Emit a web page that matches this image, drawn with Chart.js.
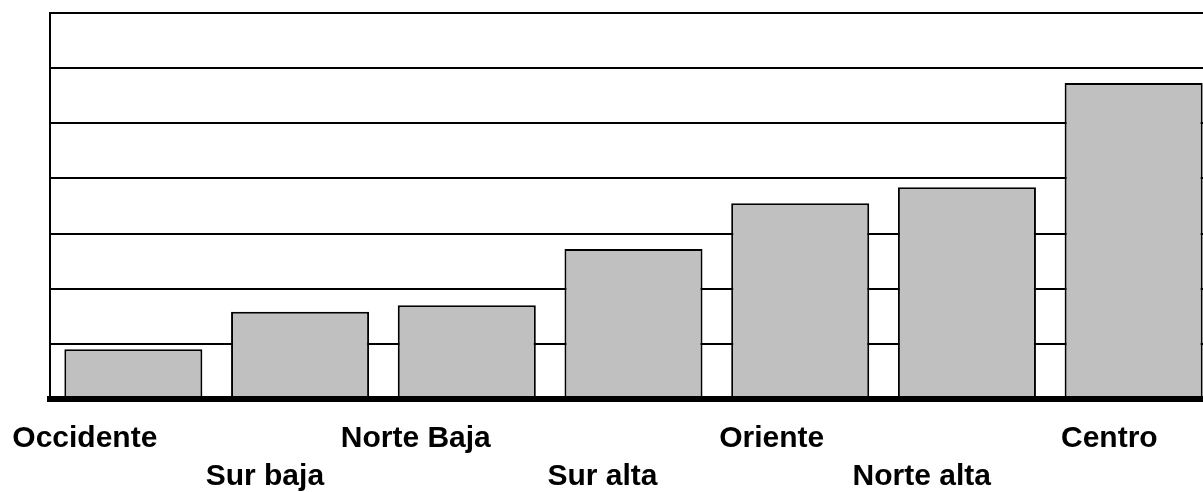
<!DOCTYPE html>
<html>
<head>
<meta charset="utf-8">
<script src="https://cdn.jsdelivr.net/npm/chart.js@4/dist/chart.umd.min.js"></script>
<style>
  html, body { margin: 0; padding: 0; background: #fff; overflow: hidden; }
  #wrap { width: 1220px; height: 492px; position: relative; }
</style>
</head>
<body>
<div id="wrap"><canvas id="c"></canvas></div>
<script>
// ---- data ----
const categories = ['Occidente', 'Sur baja', 'Norte Baja', 'Sur alta', 'Oriente', 'Norte alta', 'Centro'];
const values = [0.9, 1.58, 1.7, 2.72, 3.55, 3.84, 5.73];
const yTicks = [0, 1, 2, 3, 4, 5, 6, 7];

// staggered two-row labels built from categories
const stagedLabels = categories.map((c, i) => (i % 2 === 0 ? [c, ''] : ['', c]));

// category scale whose tick labels sit a little to the right of the bar centre
class ShiftedCategory extends Chart.CategoryScale {
  getPixelForTick(index) {
    return super.getPixelForTick(index) + (this.options.labelShift || 0);
  }
}
ShiftedCategory.id = 'shiftedCategory';
ShiftedCategory.defaults = Chart.CategoryScale.defaults;
Chart.register(ShiftedCategory);

new Chart(document.getElementById('c'), {
  type: 'bar',
  data: {
    labels: stagedLabels,
    datasets: [{
      data: values,
      backgroundColor: '#C0C0C0',
      borderColor: '#000000',
      borderWidth: 2,
      borderSkipped: 'start',
      categoryPercentage: 1.0,
      barPercentage: 0.828
    }]
  },
  options: {
    responsive: true,
    maintainAspectRatio: false,
    animation: false,
    layout: { padding: { left: 50, right: 3, top: 13, bottom: 0 } },
    plugins: { legend: { display: false }, tooltip: { enabled: false } },
    scales: {
      x: {
        type: 'shiftedCategory',
        labelShift: 24,
        offset: true,
        grid: { display: false, drawTicks: false },
        border: { display: true, color: '#000', width: 6, z: 1 },
        ticks: {
          align: 'end',
          autoSkip: false,
          maxRotation: 0,
          minRotation: 0,
          padding: 21,
          color: '#000',
          font: { family: "'Liberation Sans', Arial, sans-serif", size: 30, weight: 'bold', lineHeight: 1.267 }
        },
        afterFit(scale) { scale.height = 93; scale.paddingLeft = 0; scale.paddingRight = 0; }
      },
      y: {
        min: yTicks[0],
        max: yTicks[yTicks.length - 1],
        afterBuildTicks(scale) { scale.ticks = yTicks.map(v => ({ value: v })); },
        grid: { display: true, color: '#000', lineWidth: 2, drawTicks: false },
        border: { display: true, color: '#000', width: 2 },
        ticks: { display: false },
        afterFit(scale) { scale.width = 0; scale.paddingTop = 0; scale.paddingBottom = 0; }
      }
    }
  }
});
</script>
</body>
</html>
